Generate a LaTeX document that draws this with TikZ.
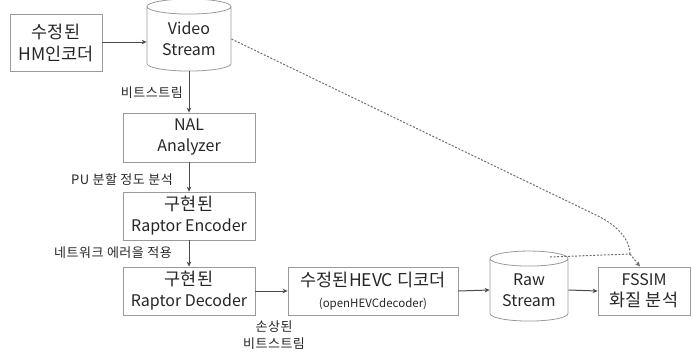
\documentclass[tikz,border=0pt]{standalone}
\usepackage{fontspec}
\setmainfont{Noto Sans CJK KR}
\usetikzlibrary{arrows.meta,shapes.geometric}

\definecolor{boxgray}{HTML}{9A9A9A}
\definecolor{linegray}{HTML}{4A4A4A}
\definecolor{dotgray}{HTML}{6E6E6E}
\definecolor{txt}{HTML}{262626}

\newcommand{\hanbig}{\fontsize{17.5}{22}\selectfont}
\newcommand{\engmid}{\fontsize{16}{21}\selectfont}
\newcommand{\engsmall}{\fontsize{11.5}{14}\selectfont}

\tikzset{
  blk/.style={draw=boxgray, line width=0.8pt, rectangle, inner sep=0pt,
    align=center, text=txt, font=\engmid},
  drum/.style={draw=boxgray, line width=0.8pt, cylinder, shape border rotate=90,
    aspect=0.28, inner sep=0pt, align=center, text=txt, font=\engmid},
  arr/.style={draw=linegray, line width=1pt, -{Stealth[length=5pt,width=4.5pt]}},
  dots/.style={draw=dotgray, line width=1pt, dash pattern=on 2pt off 1.6pt},
  lbl/.style={text=txt, inner sep=0pt, align=center,
    font=\fontsize{13}{17}\selectfont\addfontfeature{LetterSpace=4}}
}

\begin{document}
\begin{tikzpicture}[x=1pt, y=-1pt]
			%%%%% START %%%%%
			\useasboundingbox (0,0) rectangle (694,354);
			
			\node[blk, minimum width=92pt, minimum height=57pt, font=\hanbig] (hmenc) at (56,43) {수정된\\HM인코더};
			\node[drum, minimum width=84pt, minimum height=72pt] (vs) at (189,39) {Video\\Stream};
			
			\node[blk, minimum width=132pt, minimum height=49pt] (nal) at (189,137.5) {NAL\\Analyzer};
			\node[blk, minimum width=132pt, minimum height=48pt] (renc) at (189,216) {{\hanbig 구현된}\\Raptor Encoder};
			\node[blk, minimum width=132pt, minimum height=48pt] (rdec) at (189,291) {{\hanbig 구현된}\\Raptor Decoder};
			
			\node[blk, minimum width=170pt, minimum height=48pt] (hevc) at (373,291) {{\hanbig 수정된HEVC 디코더}\\{\engsmall (openHEVCdecoder)}};
			\node[drum, minimum width=78pt, minimum height=70pt] (raw) at (529,290) {Raw\\Stream};
			\node[blk, minimum width=92pt, minimum height=48pt] (fssim) at (644,291) {FSSIM\\{\hanbig 화질 분석}};
			
			\node[lbl, anchor=east] (l1) at (183,93) {비트스트림};
			\node[lbl, anchor=east] (l2) at (173,180) {PU 분할 정도 분석};
			\node[lbl, anchor=east] (l3) at (172,253) {네트워크 에러을 적용};
			\node[lbl] (l4) at (274,335) {손상된\\비트스트림};
			
			\draw[arr] (hmenc.east |- 0,42) -- (vs.west |- 0,42);
			\draw[arr] (vs.south) -- (nal.north);
			\draw[arr] (nal.south) -- (renc.north);
			\draw[arr] (renc.south) -- (rdec.north);
			\draw[arr] (rdec.east) -- (hevc.west);
			\draw[arr] (hevc.east) -- (raw.west);
			\draw[arr] (raw.east) -- (fssim.west);
			
			% quality check paths
			\coordinate (bend) at (598,216);
			\coordinate (join) at (630,254);
			\coordinate (rawtop) at (550,257);
			\draw[dots] (vs.east) -- (bend) .. controls (618,226) and (630,240) .. (join);
			\draw[dots] (rawtop) -- (join);
			\draw[dots, -{Stealth[length=5pt,width=4.5pt]}] (join) -- ([xshift=-4pt]fssim.north);
			
			%%%%% END %%%%%
\end{tikzpicture}
\end{document}
